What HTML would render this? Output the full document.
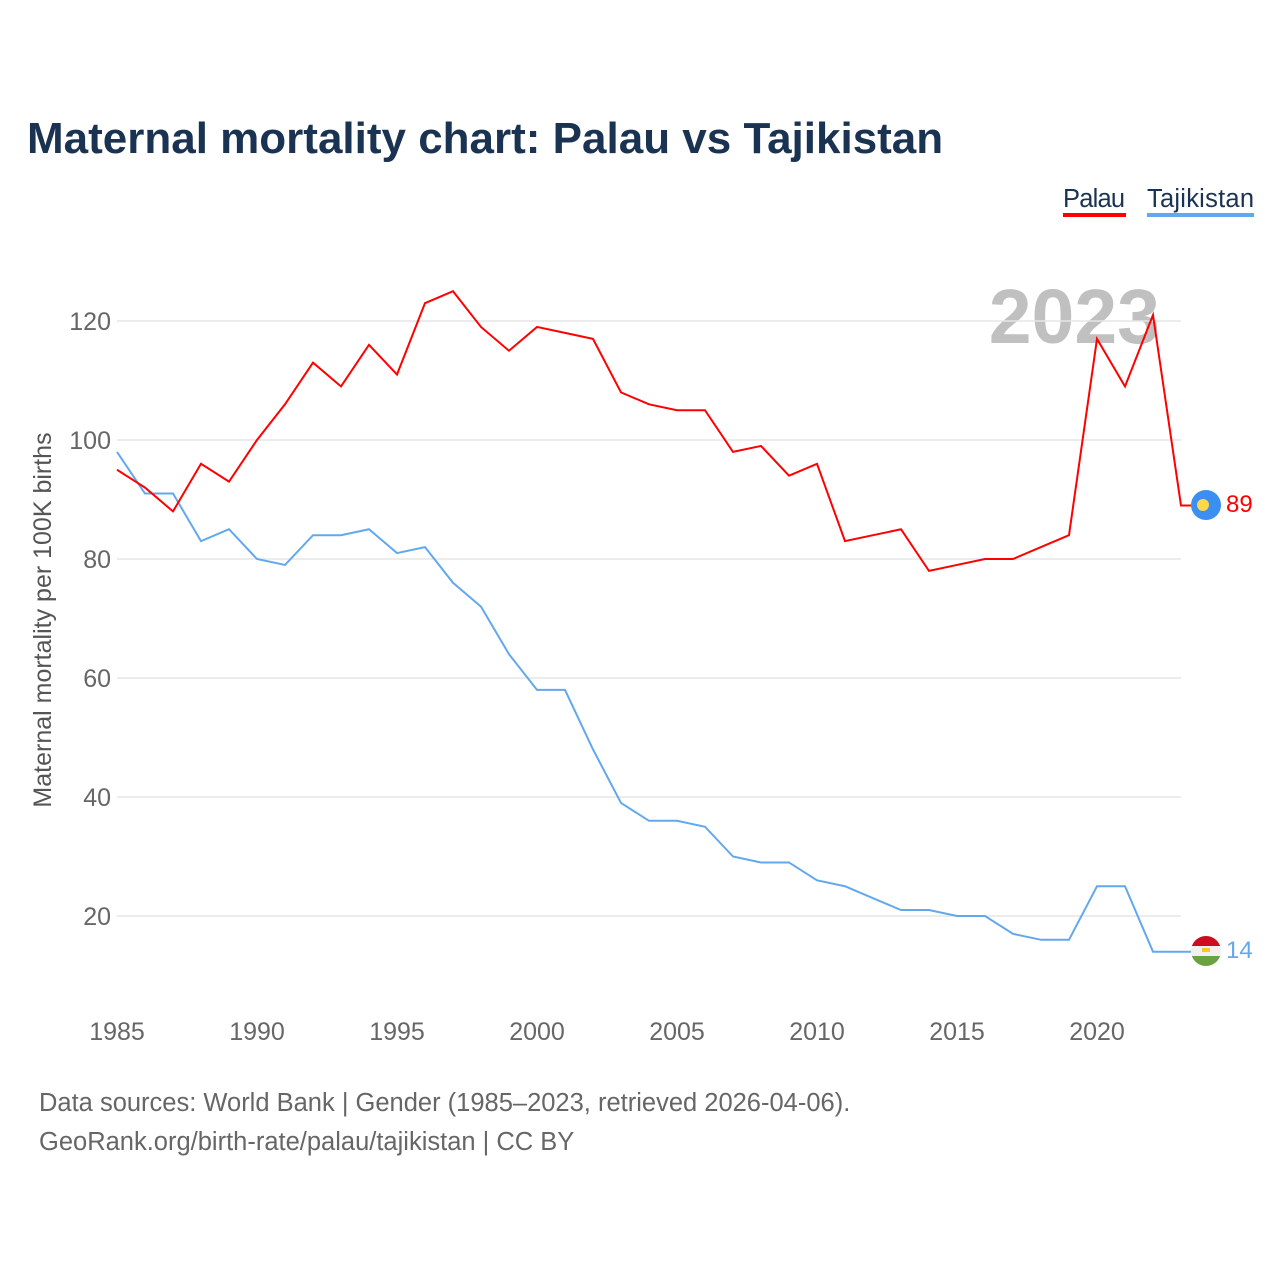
<!DOCTYPE html>
<html><head><meta charset="utf-8"><style>
body{margin:0;background:#fff;}
svg{display:block;font-family:"Liberation Sans",sans-serif;}
</style></head><body>
<svg id="chart" width="1280" height="1280" viewBox="0 0 1280 1280">
<rect width="1280" height="1280" fill="#fff"/>
<text x="27" y="153" font-size="44" font-weight="bold" fill="#1b3352">Maternal mortality chart: Palau vs Tajikistan</text>
<g>
<text x="1063" y="207" font-size="25.5" fill="#1b3352" textLength="62">Palau</text>
<rect x="1063" y="213" width="63" height="4" fill="#ff0000"/>
<text x="1147" y="207" font-size="25.5" fill="#1b3352" textLength="107">Tajikistan</text>
<rect x="1147" y="213" width="107" height="4" fill="#62a8ee"/>
</g>
<text x="1160" y="343" font-size="77" font-weight="bold" fill="#c0c0c0" text-anchor="end">2023</text>
<g id="grid"></g>
<g id="xticks"></g>
<text transform="translate(51,620) rotate(-90)" font-size="25" fill="#555" text-anchor="middle">Maternal mortality per 100K births</text>
<g id="lines"></g>
<g><circle cx="1206" cy="505" r="15" fill="#3b8ff0"/><circle cx="1203" cy="505" r="6" fill="#ffd84a"/></g>
<g>
<clipPath id="tc"><circle cx="1206" cy="951" r="15"/></clipPath>
<g clip-path="url(#tc)"><rect x="1190" y="936" width="32" height="10" fill="#cc0d1f"/><rect x="1190" y="946" width="32" height="10" fill="#f0f0f0"/><rect x="1190" y="956" width="32" height="11" fill="#6aa23f"/><rect x="1202" y="948" width="8" height="4" fill="#f7c530"/></g></g>
<text x="1226" y="512" font-size="24" fill="#ff0000">89</text>
<text x="1226" y="958" font-size="24" fill="#62a8ee">14</text>
<text x="39" y="1111" font-size="25.5" fill="#666">Data sources: World Bank | Gender (1985–2023, retrieved 2026-04-06).</text>
<text x="39" y="1150" font-size="25.5" fill="#666">GeoRank.org/birth-rate/palau/tajikistan | CC BY</text>
</svg>
<script>
const years=[];for(let y=1985;y<=2023;y++)years.push(y);
const palau=[95,92,88,96,93,100,106,113,109,116,111,123,125,119,115,119,118,117,108,106,105,105,98,99,94,96,83,84,85,78,79,80,80,82,84,117,109,121,89];
const tajikistan=[98,91,91,83,85,80,79,84,84,85,81,82,76,72,64,58,58,48,39,36,36,35,30,29,29,26,25,23,21,21,20,20,17,16,16,25,25,14,14];
const yTicks=[20,40,60,80,100,120];
const xTicks=[1985,1990,1995,2000,2005,2010,2015,2020];
const NS="http://www.w3.org/2000/svg";
const x=v=>117+(v-1985)*28;
const y=v=>1035-v*5.95;
const grid=document.getElementById('grid');
yTicks.forEach(t=>{
 const l=document.createElementNS(NS,'line');
 l.setAttribute('x1',117);l.setAttribute('x2',1181);l.setAttribute('y1',y(t));l.setAttribute('y2',y(t));
 l.setAttribute('stroke','#e6e6e6');l.setAttribute('stroke-width','1.5');
 
 
 grid.appendChild(l);
 const tx=document.createElementNS(NS,'text');
 tx.setAttribute('x',111);tx.setAttribute('y',y(t)+9);tx.setAttribute('text-anchor','end');
 tx.setAttribute('font-size','25');tx.setAttribute('fill','#666');tx.textContent=t;
 
 
 grid.appendChild(tx);
});
const xt=document.getElementById('xticks');
xTicks.forEach(t=>{
 const tx=document.createElementNS(NS,'text');
 tx.setAttribute('x',x(t));tx.setAttribute('y',1040);tx.setAttribute('text-anchor','middle');
 tx.setAttribute('font-size','25');tx.setAttribute('fill','#666');tx.textContent=t;
 
 
 xt.appendChild(tx);
});
const lines=document.getElementById('lines');
function draw(vals,color,name){
 let d=vals.map((v,i)=>(i?'L':'M')+x(years[i])+','+y(v)).join(' ');
 d+=' L'+(x(2023)+10)+','+y(vals[vals.length-1]);
 const p=document.createElementNS(NS,'path');
 p.setAttribute('d',d);p.setAttribute('fill','none');p.setAttribute('stroke',color);p.setAttribute('stroke-width','2');
 
 
 lines.appendChild(p);
}
draw(tajikistan,'#62a8ee','tajikistan-line');
draw(palau,'#ff0000','palau-line');
</script>
</body></html>
